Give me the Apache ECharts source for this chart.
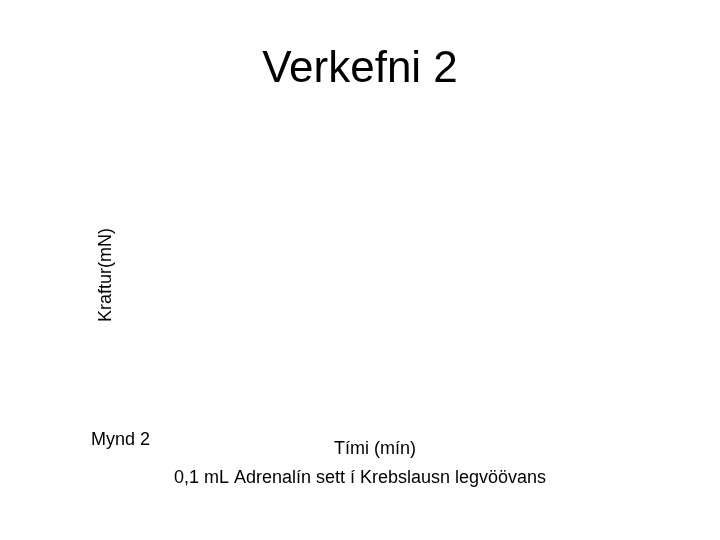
<!DOCTYPE html>
<html>
<head>
<meta charset="utf-8">
<script src="https://cdn.jsdelivr.net/npm/echarts@6/dist/echarts.min.js"></script>
<style>
  html, body { margin: 0; padding: 0; background: #fff; }
  #chart { width: 720px; height: 540px; }
</style>
</head>
<body>
<div id="chart"></div>
<script>
// the reference plot area is empty: no points are drawn
const timeMin = [];
const forceMN = [];

const titleText = 'Verkefni 2';
const xName = 'Tími (mín)';
const yName = 'Kraftur(mN)';
const figLabel = 'Mynd 2';
const caption = '0,1 mL Adrenalín sett í Krebslausn legvöövans';

const font = '"Liberation Sans", Arial, sans-serif';

const chart = echarts.init(document.getElementById('chart'));

chart.setOption({
  backgroundColor: '#fff',
  animation: false,
  title: {
    text: titleText,
    left: 'center',
    top: 43,
    textStyle: { fontFamily: font, fontSize: 44, fontWeight: 'normal', color: '#000' }
  },
  grid: { left: 122, right: 92, top: 110, bottom: 100 },
  xAxis: {
    type: 'value',
    name: xName,
    nameLocation: 'middle',
    nameGap: 0,
    nameTextStyle: { fontFamily: font, fontSize: 18, color: '#000' },
    axisLine: { show: false },
    axisTick: { show: false },
    axisLabel: { show: false },
    splitLine: { show: false }
  },
  yAxis: {
    type: 'value',
    name: yName,
    nameLocation: 'middle',
    nameGap: 7,
    nameTextStyle: { fontFamily: font, fontSize: 18, color: '#000' },
    axisLine: { show: false },
    axisTick: { show: false },
    axisLabel: { show: false },
    splitLine: { show: false }
  },
  graphic: [
    {
      type: 'text',
      left: 91,
      top: 431,
      style: { text: figLabel, font: '18px ' + font, fill: '#000' }
    },
    {
      type: 'text',
      left: 'center',
      top: 469,
      style: { text: caption, font: '18px ' + font, fill: '#000' }
    }
  ],
  series: [
    {
      type: 'line',
      data: timeMin.map((t, i) => [t, forceMN[i]]),
      lineStyle: { color: '#000' },
      symbol: 'none'
    }
  ]
});
</script>
</body>
</html>
